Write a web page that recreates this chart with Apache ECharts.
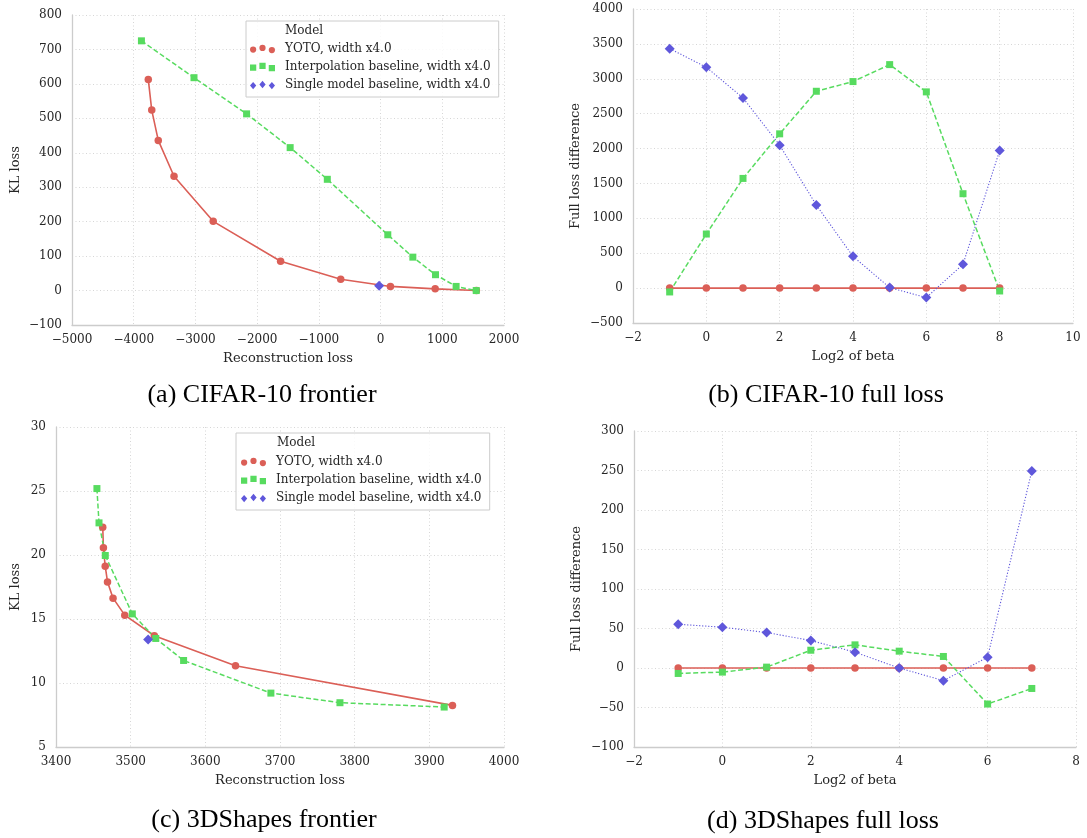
<!DOCTYPE html>
<html>
<head>
<meta charset="utf-8">
<script src="https://cdn.jsdelivr.net/npm/echarts@6/dist/echarts.min.js"></script>
<style>
html,body{margin:0;padding:0;background:#fff;}
#chart{width:1087px;height:838px;}
</style>
</head>
<body>
<div id="chart"></div>
<script>
// ---------- DATA ----------
const seriesNames = ['YOTO, width x4.0', 'Interpolation baseline, width x4.0', 'Single model baseline, width x4.0'];
const legendTitle = 'Model';
const captions = ['(a) CIFAR-10 frontier', '(b) CIFAR-10 full loss', '(c) 3DShapes frontier', '(d) 3DShapes full loss'];

// (a) CIFAR-10 frontier
const cifarYotoRecon   = [-3764, -3708, -3602, -3347, -2712, -1620, -646, 160, 885, 1553];
const cifarYotoKL      = [613, 524, 436, 332, 201, 85, 33, 12, 5, 0];
const cifarInterpRecon = [-3875, -3023, -2171, -1465, -863, 117, 523, 890, 1224, 1550];
const cifarInterpKL    = [725, 618, 513, 415, 323, 162, 97, 46, 12, 0];
const cifarSingleRecon = [-23];
const cifarSingleKL    = [14];

// (b) CIFAR-10 full loss
const cifarBeta        = [-1, 0, 1, 2, 3, 4, 5, 6, 7, 8];
const cifarYotoDiff    = [0, 0, 0, 0, 0, 0, 0, 0, 0, 0];
const cifarInterpDiff  = [-55, 775, 1572, 2211, 2821, 2960, 3203, 2812, 1353, -41];
const cifarSingleDiff  = [3432, 3165, 2726, 2048, 1190, 455, 7, -136, 341, 1972];

// (c) 3DShapes frontier
const shapesYotoRecon   = [3462.6, 3463.5, 3465.9, 3469, 3476.4, 3492.1, 3531.7, 3640.4, 3931];
const shapesYotoKL      = [22.17, 20.56, 19.13, 17.9, 16.63, 15.3, 13.69, 11.35, 8.25];
const shapesInterpRecon = [3454.8, 3457.6, 3466, 3502.2, 3533.6, 3570.9, 3687.8, 3780.3, 3919.9];
const shapesInterpKL    = [25.19, 22.51, 19.96, 15.4, 13.48, 11.76, 9.21, 8.46, 8.12];
const shapesSingleRecon = [3523.4];
const shapesSingleKL    = [13.4];

// (d) 3DShapes full loss
const shapesBeta        = [-1, 0, 1, 2, 3, 4, 5, 6, 7];
const shapesYotoDiff    = [0, 0, 0, 0, 0, 0, 0, 0, 0];
const shapesInterpDiff  = [-6.9, -5.2, 1.1, 22.5, 29.3, 21.3, 14.6, -45.6, -25.9];
const shapesSingleDiff  = [55.4, 51.6, 44.9, 34.8, 20, 0, -16, 13.7, 249.5];

// axis ranges
const axesX = [
  {name: 'Reconstruction loss', min: -5000, max: 2000, interval: 1000},
  {name: 'Log2 of beta', min: -2, max: 10, interval: 2},
  {name: 'Reconstruction loss', min: 3400, max: 4000, interval: 100},
  {name: 'Log2 of beta', min: -2, max: 8, interval: 2}
];
const axesY = [
  {name: 'KL loss', min: -100, max: 800, interval: 100},
  {name: 'Full loss difference', min: -500, max: 4000, interval: 500},
  {name: 'KL loss', min: 5, max: 30, interval: 5},
  {name: 'Full loss difference', min: -100, max: 300, interval: 50}
];

// ---------- STYLE ----------
const colors = ['#db5f57', '#57db5f', '#5f57db'];
const tickFont = 'DejaVu Serif';
const textColor = '#262626';
const grids = [
  {left: 72, top: 15, width: 432, height: 310},
  {left: 633, top: 9, width: 440, height: 314},
  {left: 56, top: 427, width: 448, height: 320},
  {left: 634, top: 431, width: 442, height: 316}
];
const yNameGaps = [50, 51, 34, 51];

const zip = (a, b) => a.map((v, i) => [v, b[i]]);
const fmt = v => String(v).replace('-', '\u2212');

const icons = [
  'path://M0,4.5A3,3 0 1 0 6,4.5A3,3 0 1 0 0,4.5Z M9,3A3,3 0 1 0 15,3A3,3 0 1 0 9,3Z M18,5A3,3 0 1 0 24,5A3,3 0 1 0 18,5Z',
  'path://M0,1.5H6V7.5H0Z M9,0H15V6H9Z M18,2H24V8H18Z',
  'path://M3,1L6,4.5L3,8L0,4.5Z M12,0L15,3.5L12,7L9,3.5Z M21,1L24,4.5L21,8L18,4.5Z'
];

function mkSeries(idx, kind, data) {
  const base = {
    name: seriesNames[kind],
    type: 'line',
    xAxisIndex: idx, yAxisIndex: idx,
    data: data,
    showSymbol: true,
    itemStyle: {color: colors[kind]},
    animation: false,
    emphasis: {disabled: true}
  };
  if (kind === 0) {
    base.symbol = 'circle'; base.symbolSize = 7.5;
    base.lineStyle = {color: colors[0], width: 1.6, type: 'solid'};
  } else if (kind === 1) {
    base.symbol = 'rect'; base.symbolSize = 7;
    base.lineStyle = {color: colors[1], width: 1.5, type: [5, 2.5]};
  } else {
    base.symbol = 'diamond'; base.symbolSize = 10;
    base.lineStyle = {color: colors[2], width: 1.1, type: [1.2, 1.8]};
  }
  return base;
}

const series = [
  mkSeries(0, 0, zip(cifarYotoRecon, cifarYotoKL)),
  mkSeries(0, 1, zip(cifarInterpRecon, cifarInterpKL)),
  mkSeries(0, 2, zip(cifarSingleRecon, cifarSingleKL)),
  mkSeries(1, 0, zip(cifarBeta, cifarYotoDiff)),
  mkSeries(1, 1, zip(cifarBeta, cifarInterpDiff)),
  mkSeries(1, 2, zip(cifarBeta, cifarSingleDiff)),
  mkSeries(2, 0, zip(shapesYotoRecon, shapesYotoKL)),
  mkSeries(2, 1, zip(shapesInterpRecon, shapesInterpKL)),
  mkSeries(2, 2, zip(shapesSingleRecon, shapesSingleKL)),
  mkSeries(3, 0, zip(shapesBeta, shapesYotoDiff)),
  mkSeries(3, 1, zip(shapesBeta, shapesInterpDiff)),
  mkSeries(3, 2, zip(shapesBeta, shapesSingleDiff))
];

const gridLine = {show: true, lineStyle: {color: '#d6d6d6', width: 1, type: [1, 2.5]}};
const axisLine = {show: true, onZero: false, lineStyle: {color: '#cccccc', width: 1.3}};

const xAxis = axesX.map((a, i) => ({
  type: 'value', gridIndex: i, min: a.min, max: a.max, interval: a.interval,
  name: a.name, nameLocation: 'middle', nameGap: 27,
  nameTextStyle: {fontFamily: tickFont, fontSize: 13, color: textColor},
  axisLine: axisLine, axisTick: {show: false}, splitLine: gridLine,
  axisLabel: {fontFamily: tickFont, fontSize: 12, color: textColor, margin: 9, formatter: fmt}
}));
const yAxis = axesY.map((a, i) => ({
  type: 'value', gridIndex: i, min: a.min, max: a.max, interval: a.interval,
  name: a.name, nameLocation: 'middle', nameGap: yNameGaps[i], nameRotate: 90,
  nameTextStyle: {fontFamily: tickFont, fontSize: 13, color: textColor},
  axisLine: axisLine, axisTick: {show: false}, splitLine: gridLine,
  axisLabel: {fontFamily: tickFont, fontSize: 12, color: textColor, margin: 10, formatter: fmt}
}));

function mkLegend(left, top, padding) {
  return {
    orient: 'vertical', left: left, top: top,
    padding: padding,
    itemWidth: 25, itemHeight: 8.5, itemGap: 0,
    borderColor: '#cccccc', borderWidth: 1, borderRadius: 0,
    backgroundColor: 'rgba(255,255,255,0.85)',
    selectedMode: false,
    textStyle: {fontFamily: tickFont, fontSize: 12, color: textColor, lineHeight: 18, padding: [0, 0, 0, 5]},
    data: seriesNames.map((n, k) => ({name: n, icon: icons[k], itemStyle: {color: colors[k]}}))
  };
}

const captionPos = [[262, 395], [826, 395], [264, 820], [823, 821]];
const graphic = captions.map((c, i) => ({
  type: 'text', x: captionPos[i][0], y: captionPos[i][1], z: 100,
  style: {text: c, font: '26px "Liberation Serif"', fill: '#000', align: 'center', verticalAlign: 'middle'}
}));
graphic.push({type: 'text', x: 285, y: 31, z: 100, style: {text: legendTitle, font: '12px "DejaVu Serif"', fill: textColor, align: 'left', verticalAlign: 'middle'}});
graphic.push({type: 'text', x: 277, y: 443, z: 100, style: {text: legendTitle, font: '12px "DejaVu Serif"', fill: textColor, align: 'left', verticalAlign: 'middle'}});

const chart = echarts.init(document.getElementById('chart'), null, {renderer: 'canvas'});
chart.setOption({
  animation: false,
  backgroundColor: '#ffffff',
  grid: grids,
  xAxis: xAxis,
  yAxis: yAxis,
  legend: [mkLegend(246, 21, [19, 8, 3, 4]), mkLegend(236, 433, [20, 8, 3, 5])],
  graphic: graphic,
  series: series
});
</script>
</body>
</html>
